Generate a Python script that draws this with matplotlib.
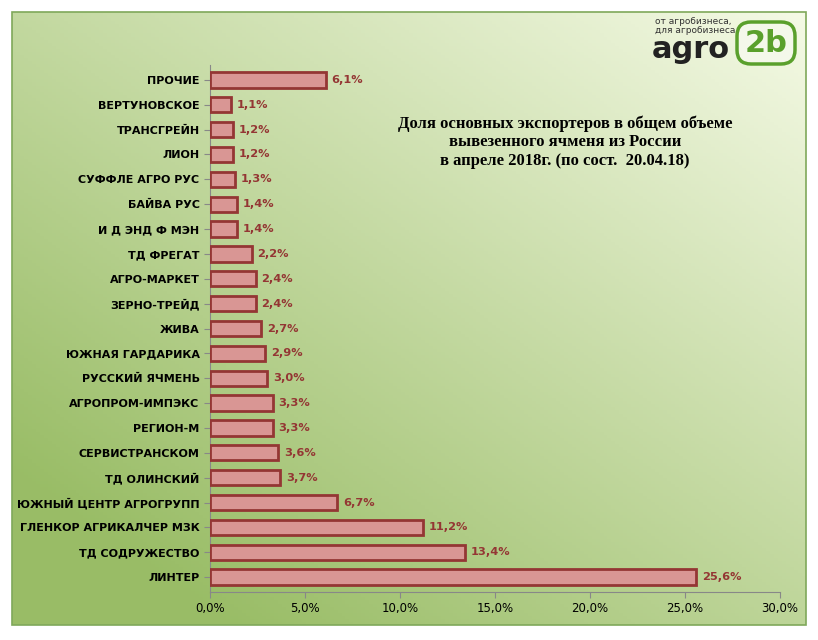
import numpy as np
import matplotlib.pyplot as plt
from matplotlib.patches import Rectangle, FancyBboxPatch

labels = ["ЛИНТЕР", "ТД СОДРУЖЕСТВО", "ГЛЕНКОР АГРИКАЛЧЕР МЗК", "ЮЖНЫЙ ЦЕНТР АГРОГРУПП",
          "ТД ОЛИНСКИЙ", "СЕРВИСТРАНСКОМ", "РЕГИОН-М", "АГРОПРОМ-ИМПЭКС",
          "РУССКИЙ ЯЧМЕНЬ", "ЮЖНАЯ ГАРДАРИКА", "ЖИВА", "ЗЕРНО-ТРЕЙД", "АГРО-МАРКЕТ",
          "ТД ФРЕГАТ", "И Д ЭНД Ф МЭН", "БАЙВА РУС", "СУФФЛЕ АГРО РУС", "ЛИОН",
          "ТРАНСГРЕЙН", "ВЕРТУНОВСКОЕ", "ПРОЧИЕ"]
values = [25.6, 13.4, 11.2, 6.7, 3.7, 3.6, 3.3, 3.3, 3.0, 2.9, 2.7, 2.4, 2.4,
          2.2, 1.4, 1.4, 1.3, 1.2, 1.2, 1.1, 6.1]
xticks = [0, 5, 10, 15, 20, 25, 30]

W, H = 818, 640
fig = plt.figure(figsize=(W / 100, H / 100), dpi=100)
fig.patch.set_facecolor("white")

# background gradient panel
bg = fig.add_axes([0, 0, 1, 1])
bg.set_xlim(0, W); bg.set_ylim(H, 0); bg.axis("off")
yy, xx = np.mgrid[0:1:200j, 0:1:200j]
t = np.clip(0.55 * (1 - xx) + 0.6 * yy, 0, 1)
light = np.array([0.96, 0.98, 0.90])
dark = np.array([0.60, 0.74, 0.40])
img = light + (dark - light) * t[..., None]
bg.imshow(img, extent=[12, 806, 625, 12], aspect="auto", zorder=1)
bg.add_patch(Rectangle((12, 12), 794, 613, fill=False, ec="#7fa85a", lw=1.2, zorder=2))

# logo
bg.text(655, 26, "от агробизнеса,\nдля агробизнеса", fontsize=6.5, color="#333333",
        va="center", ha="left", linespacing=0.9, zorder=3)
bg.text(652, 50, "agro", fontsize=22, fontweight="bold", color="#222222",
        va="center", ha="left", zorder=3)
bg.add_patch(FancyBboxPatch((737, 22), 58, 42, boxstyle="round,pad=0,rounding_size=14",
                            fc="#f4f8ea", ec="#5aa02c", lw=2.5, zorder=3))
bg.text(766, 43, "2b", fontsize=22, fontweight="bold", color="#5aa02c",
        va="center", ha="center", zorder=4)

ax = fig.add_axes([210 / W, 1 - 592 / H, 570 / W, 527 / H])
ax.patch.set_alpha(0)
y = np.arange(len(labels))
ax.barh(y, values, height=0.62, color="#d99694", edgecolor="#943634", lw=2, zorder=3)
for yi, v in zip(y, values):
    ax.text(v + 0.3, yi, f"{v:.1f}%".replace(".", ","), va="center", ha="left",
            fontsize=8.2, fontweight="bold", color="#943634")
ax.set_yticks(y)
ax.set_yticklabels(labels, fontsize=8, fontweight="bold")
ax.set_ylim(-0.6, len(labels) - 0.4)
ax.set_xlim(0, 30)
ax.set_xticks(xticks)
ax.set_xticklabels([f"{v:.1f}%".replace(".", ",") for v in xticks], fontsize=8.5)
for s in ["top", "right"]:
    ax.spines[s].set_visible(False)
ax.spines["left"].set_color("#888888")
ax.spines["bottom"].set_color("#888888")
ax.tick_params(colors="#888888", labelcolor="black", length=4)

bg.text(565, 142, "Доля основных экспортеров в общем объеме\nвывезенного ячменя из России\n"
        "в апреле 2018г. (по сост.  20.04.18)", fontsize=12, fontweight="bold",
        family="Liberation Serif", ha="center", va="center", linespacing=1.2, zorder=5)

fig.savefig("out.png", dpi=100)
